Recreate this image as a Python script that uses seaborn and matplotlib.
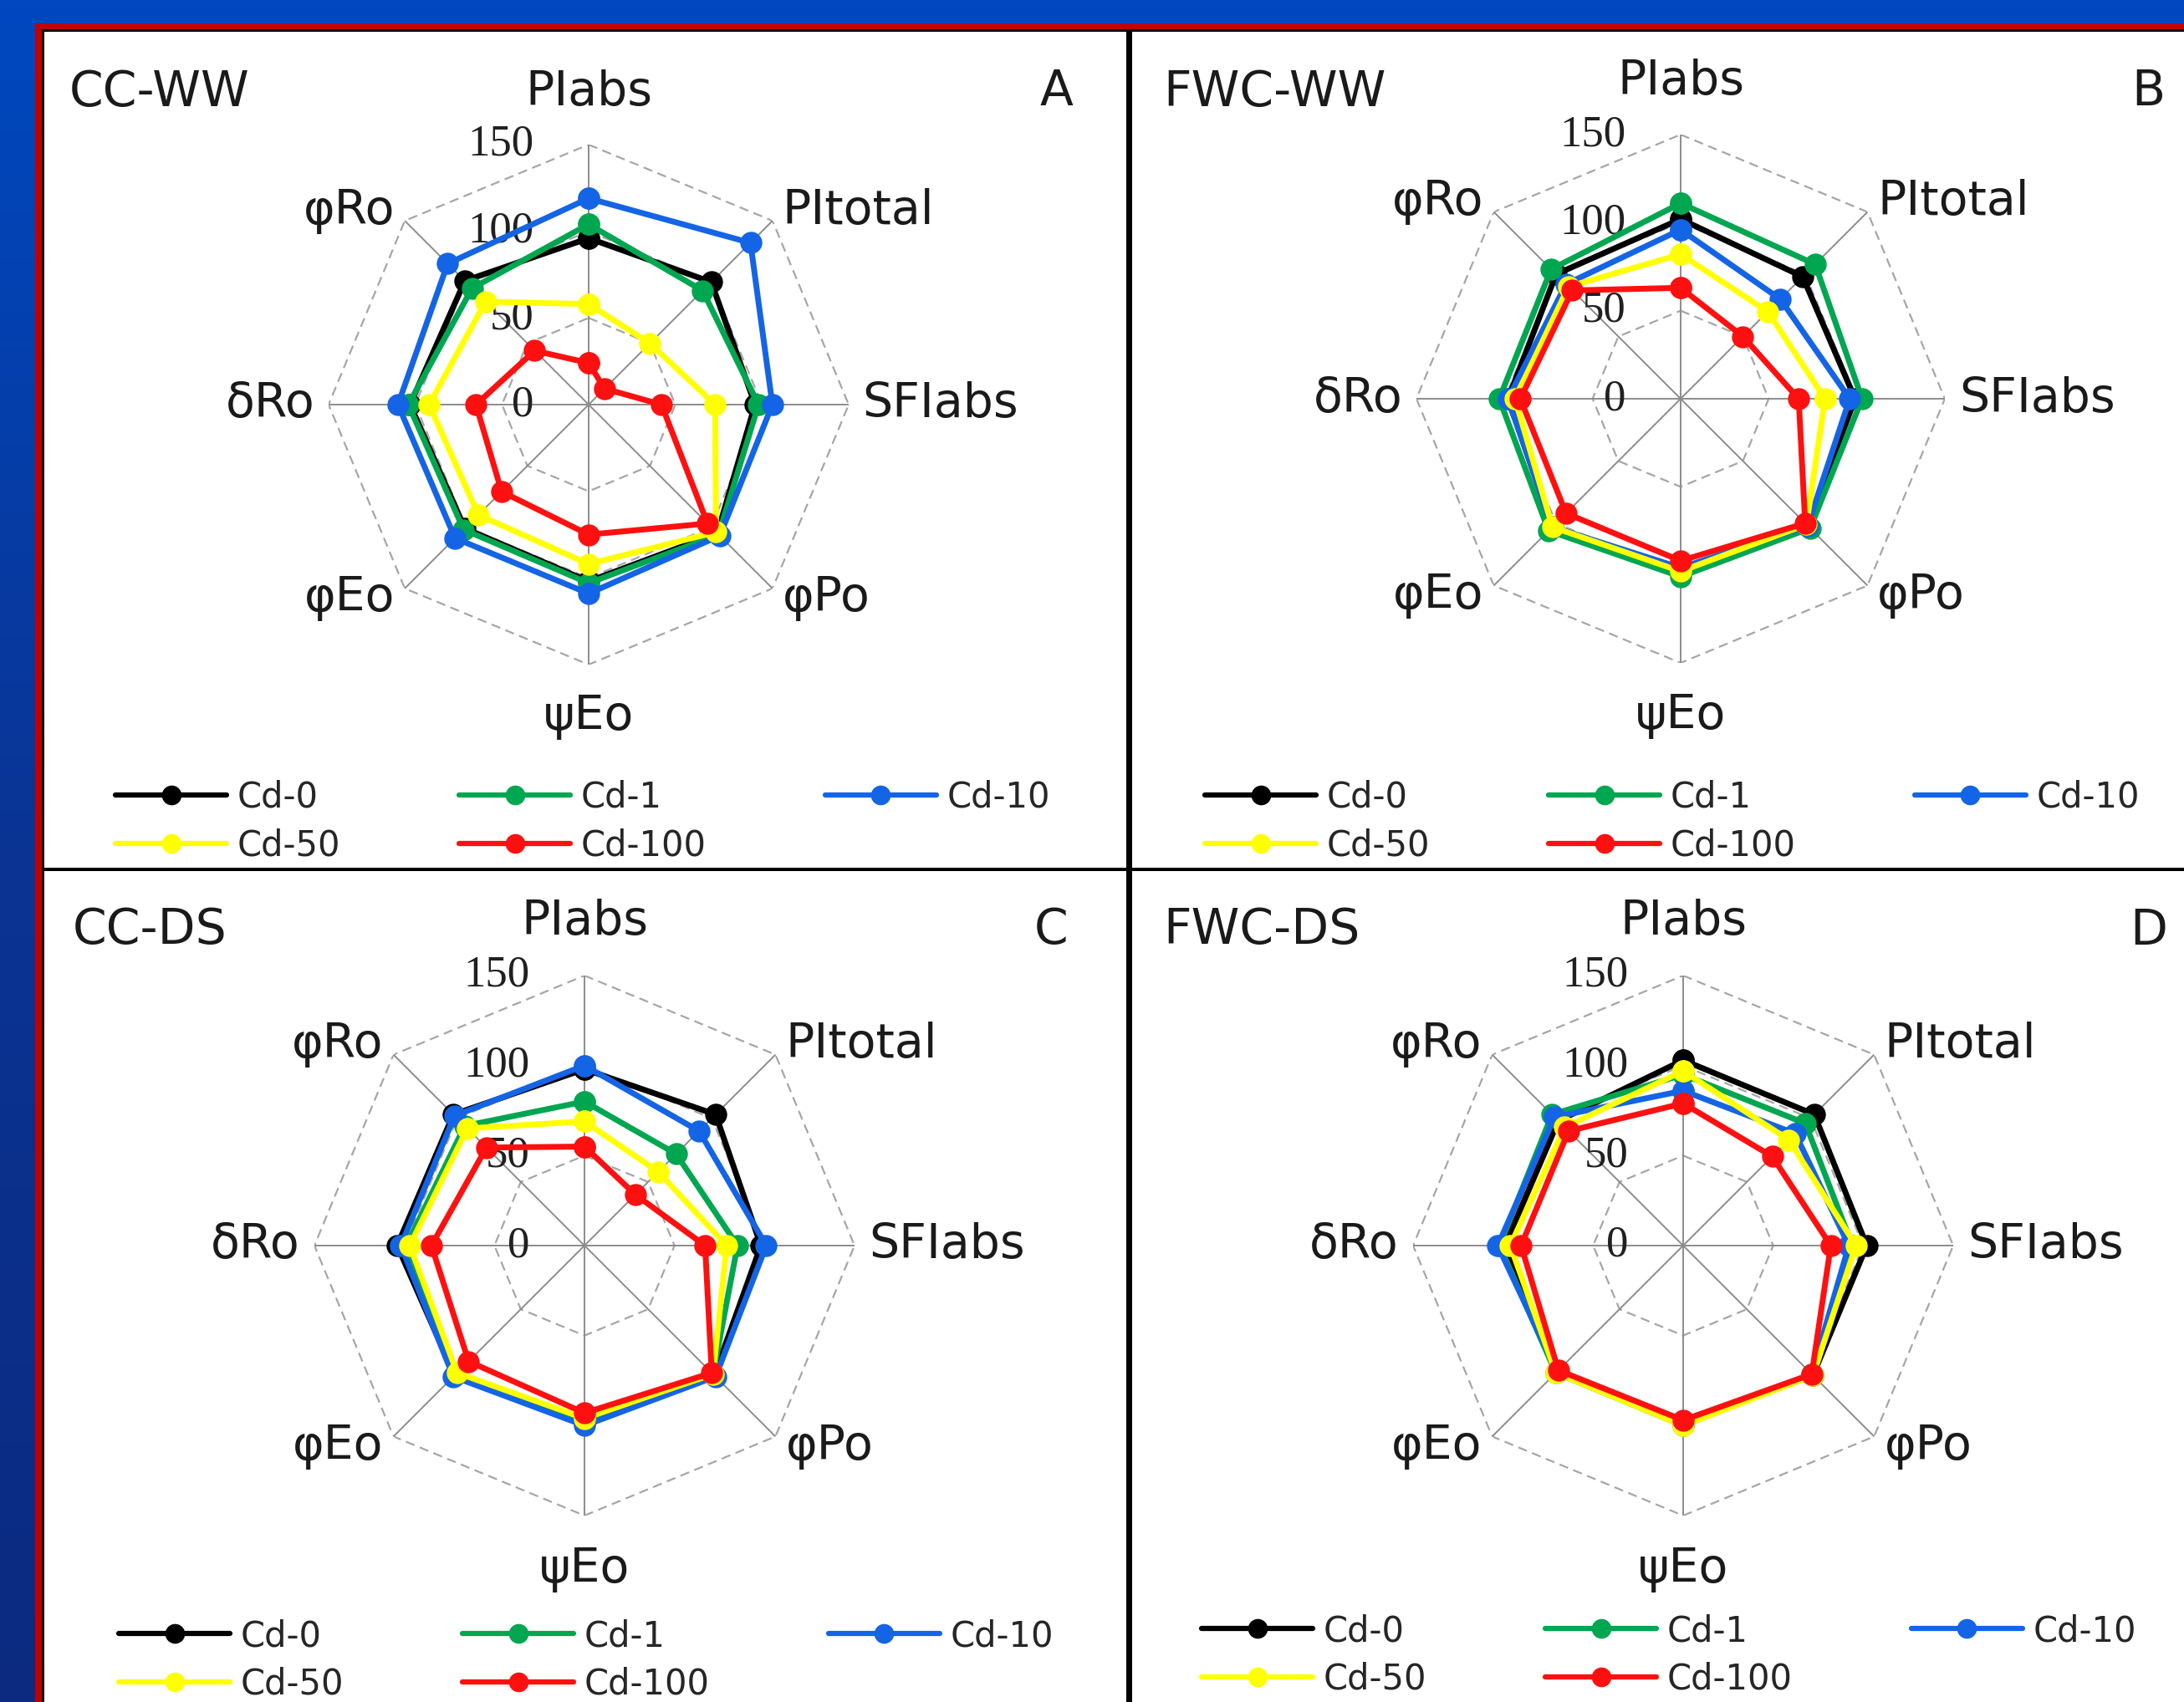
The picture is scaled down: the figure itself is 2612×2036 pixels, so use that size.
import numpy as np
import pandas as pd
import matplotlib
matplotlib.use("Agg")
import matplotlib.pyplot as plt
from matplotlib.colors import LinearSegmentedColormap
from matplotlib.lines import Line2D
from matplotlib.patches import Rectangle
import seaborn as sns

# axes of the radar, clockwise from the top
params = ["PIabs", "PItotal", "SFIabs", "φPo", "ψEo", "φEo", "δRo", "φRo"]
treatments = ["Cd-0", "Cd-1", "Cd-10", "Cd-50", "Cd-100"]
colors = ["#000000", "#00a650", "#1464e6", "#ffff00", "#ff1010"]
ticks = [0, 50, 100, 150]

# one row per treatment (Cd-0, Cd-1, Cd-10, Cd-50, Cd-100), % of control
cc_ww = [
    [96, 100, 96, 105, 102, 101, 103, 101],
    [104, 93, 98, 106, 103, 102, 104, 95],
    [119, 132, 106, 107, 109, 109, 110, 115],
    [58, 50, 73, 104, 92, 90, 92, 84],
    [24, 13, 42, 97, 75, 71, 65, 44],
]
fwc_ww = [
    [102, 98, 99, 102, 97, 103, 98, 100],
    [111, 108, 103, 104, 101, 106, 103, 104],
    [96, 80, 96, 102, 96, 103, 98, 92],
    [82, 70, 82, 101, 98, 103, 94, 90],
    [63, 50, 67, 100, 92, 92, 91, 87],
]
cc_ds = [
    [98, 103, 98, 102, 98, 102, 104, 103],
    [80, 72, 85, 101, 97, 101, 99, 94],
    [100, 90, 101, 103, 100, 103, 102, 102],
    [69, 58, 79, 101, 96, 100, 97, 92],
    [55, 40, 67, 100, 93, 91, 85, 77],
]
fwc_ds = [
    [103, 103, 102, 102, 99, 99, 99, 98],
    [95, 96, 94, 101, 100, 100, 102, 103],
    [86, 88, 92, 101, 99, 99, 103, 101],
    [97, 83, 96, 102, 100, 100, 96, 93],
    [79, 70, 82, 101, 97, 98, 90, 90],
]

panels = [
    # title, letter, data, centre x, centre y, radius, legend x, legend top, title x, title y (pixels)
    ("CC-WW", "A", cc_ww, 704, 484, 311, 138, 933, 83, 110),
    ("FWC-WW", "B", fwc_ww, 2010, 477, 316, 1441, 933, 1391, 110),
    ("CC-DS", "C", cc_ds, 699, 1490, 323, 142, 1936, 87, 1113),
    ("FWC-DS", "D", fwc_ds, 2013, 1490, 323, 1437, 1930, 1391, 1113),
]

W, H = 2612, 2036
sns.set_theme(style="white")
plt.rcParams["font.family"] = ["DejaVu Sans"]


def fx(x):
    return x / W


def fy(y):
    return 1 - y / H


fig = plt.figure(figsize=(W / 100, H / 100), dpi=100)

# blue slide background with red/black frame
bg = fig.add_axes([0, 0, 1, 1])
grad = np.linspace(0, 1, 256).reshape(-1, 1)
cmap = LinearSegmentedColormap.from_list("bg", ["#0048c0", "#0a3494", "#0c2a80"])
bg.imshow(grad, aspect="auto", extent=[0, 1, 0, 1], cmap=cmap)
bg.add_patch(Rectangle((fx(42), 0), 1 - fx(42), fy(28), color="#c00000", lw=0))
bg.add_patch(Rectangle((fx(50), 0), 1 - fx(50), fy(35), color="#000000", lw=0))
bg.add_patch(Rectangle((fx(53), 0), 1 - fx(53), fy(38), color="#ffffff", lw=0))
bg.add_patch(Rectangle((fx(1347), 0), fx(7), fy(38), color="#000000", lw=0))
bg.add_patch(Rectangle((fx(53), fy(1042)), 1 - fx(53), 4 / H, color="#000000", lw=0))
bg.set_xlim(0, 1)
bg.set_ylim(0, 1)
bg.axis("off")

theta = np.linspace(0, 2 * np.pi, len(params), endpoint=False)
closed = np.append(theta, theta[0])

for title, letter, data, cx, cy, R, lx, ly, tx, ty in panels:
    ax = fig.add_axes([fx(cx - R), fy(cy + R), 2 * R / W, 2 * R / H], projection="polar")
    ax.set_facecolor("none")
    ax.set_theta_zero_location("N")
    ax.set_theta_direction(-1)

    for t in ticks[1:]:
        ax.plot(closed, [t] * len(closed), color="#a6a6a6", lw=1.6,
                ls=(0, (5, 3)), zorder=1)
    for a in theta:
        ax.plot([a, a], [0, ticks[-1]], color="#8c8c8c", lw=1.4, zorder=1)

    rows = []
    for name, vals in zip(treatments, data):
        for a, v in zip(closed, vals + vals[:1]):
            rows.append({"theta": a, "value": v, "treatment": name})
    df = pd.DataFrame(rows)
    sns.lineplot(data=df, x="theta", y="value", hue="treatment",
                 hue_order=treatments, palette=dict(zip(treatments, colors)),
                 sort=False, estimator=None, marker="o", markersize=19,
                 markeredgewidth=0, linewidth=5, legend=False, ax=ax,
                 zorder=3, clip_on=False)

    ax.set_xlim(0, 2 * np.pi)
    ax.set_ylim(0, ticks[-1])
    ax.set_xticks([])
    ax.set_yticks([])
    ax.grid(False)
    ax.spines["polar"].set_visible(False)
    ax.set_xlabel("")
    ax.set_ylabel("")

    for t in ticks:
        ax.annotate(str(t), xy=(0, t), xytext=(-47, 0), textcoords="offset points",
                    ha="right", va="center", fontsize=38,
                    family=["Liberation Serif", "DejaVu Serif"], color="#202020",
                    zorder=2)

    for a, name in zip(theta, params):
        s, c = np.sin(a), np.cos(a)
        if abs(s) < 0.1:
            ha = "center"
            va = "bottom" if c > 0 else "top"
            r = 167
        else:
            ha = "left" if s > 0 else "right"
            va = "center"
            r = 158
        ax.text(a, r, name, ha=ha, va=va, fontsize=41, color="#1a1a1a")

    fig.text(fx(tx), fy(ty), title, ha="left", va="center", fontsize=42, color="#1a1a1a")
    fig.text(fx(cx + 579), fy(ty), letter, ha="right", va="center",
             fontsize=42, color="#1a1a1a")

    handles = [Line2D([], [], color=col, lw=4.5, marker="o", markersize=17,
                      markeredgewidth=0) for col in colors]
    order = [0, 3, 1, 4, 2]
    fig.legend([handles[i] for i in order], [treatments[i] for i in order],
               loc="upper left", bbox_to_anchor=(fx(lx), fy(ly)), ncol=3,
               frameon=False, borderpad=0, borderaxespad=0, fontsize=30,
               handlelength=3.2, handletextpad=0.3, columnspacing=3.4,
               labelspacing=0.38)

fig.savefig("out.png", dpi=100)
